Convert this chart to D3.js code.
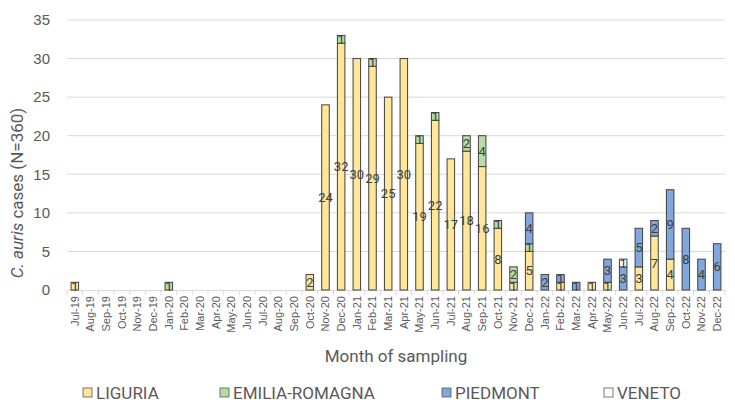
<!DOCTYPE html>
<html><head><meta charset="utf-8">
<script src="https://cdn.jsdelivr.net/npm/d3@7/dist/d3.min.js"></script>
<style>body{margin:0;background:#fff}svg{display:block;font-family:"Liberation Sans Narrow","Roboto",sans-serif}</style>
</head><body><svg id="c" width="735" height="409"></svg>
<script>
const months = ["Jul-19","Aug-19","Sep-19","Oct-19","Nov-19","Dec-19","Jan-20","Feb-20","Mar-20","Apr-20","May-20","Jun-20","Jul-20","Aug-20","Sep-20","Oct-20","Nov-20","Dec-20","Jan-21","Feb-21","Mar-21","Apr-21","May-21","Jun-21","Jul-21","Aug-21","Sep-21","Oct-21","Nov-21","Dec-21","Jan-22","Feb-22","Mar-22","Apr-22","May-22","Jun-22","Jul-22","Aug-22","Sep-22","Oct-22","Nov-22","Dec-22"];
const liguria  = [1,0,0,0,0,0,0,0,0,0,0,0,0,0,0,2,24,32,30,29,25,30,19,22,17,18,16,8,1,5,0,1,0,1,1,0,3,7,4,0,0,0];
const emilia   = [0,0,0,0,0,0,1,0,0,0,0,0,0,0,0,0,0,1,0,1,0,0,1,1,0,2,4,1,2,1,0,0,0,0,0,0,0,0,0,0,0,0];
const piedmont = [0,0,0,0,0,0,0,0,0,0,0,0,0,0,0,0,0,0,0,0,0,0,0,0,0,0,0,0,0,4,2,1,1,0,3,3,5,2,9,8,4,6];
const veneto   = [0,0,0,0,0,0,0,0,0,0,0,0,0,0,0,0,0,0,0,0,0,0,0,0,0,0,0,0,0,0,0,0,0,0,0,1,0,0,0,0,0,0];
const seriesNames = ["LIGURIA","EMILIA-ROMAGNA","PIEDMONT","VENETO"];
const yTicks = [0,5,10,15,20,25,30,35];

const colors = ["#FFE699","#B7DDA6","#80A8DE","#FFFFFF"];
const svg = d3.select("#c");
const L = 67, R = 725, T = 20, B = 290;
const x = d3.scaleBand().domain(months).range([L, R]).paddingInner(0.52).paddingOuter(0.26);
const y = d3.scaleLinear().domain([0, 35]).range([B, T]);

// gridlines
svg.append("g").selectAll("line").data(yTicks.slice(1)).join("line")
  .attr("x1", L).attr("x2", R).attr("y1", d => y(d)).attr("y2", d => y(d))
  .attr("stroke", "#d9d9d9").attr("stroke-width", 1);

// y axis labels
const ya = svg.append("g").attr("transform", `translate(${L},0)`)
  .call(d3.axisLeft(y).tickValues(yTicks).tickSize(0).tickPadding(17));
ya.select(".domain").remove();
ya.selectAll("text").attr("font-size", 15).attr("fill", "#595959");

// x axis
const xa = svg.append("g").attr("transform", `translate(0,${B})`)
  .call(d3.axisBottom(x).tickSize(0));
xa.select(".domain").attr("stroke", "#d9d9d9");
xa.selectAll("text").attr("font-size", 11).attr("fill", "#595959")
  .attr("text-anchor", "end").attr("transform", "rotate(-90)")
  .attr("x", -6).attr("y", 0).attr("dy", "0.35em");
// tick marks at band boundaries
const step = x.step();
const bounds = d3.range(months.length + 1).map(i => L + i * (R - L) / months.length);
svg.append("g").selectAll("line").data(bounds).join("line")
  .attr("x1", d => d).attr("x2", d => d).attr("y1", B).attr("y2", B + 5)
  .attr("stroke", "#d9d9d9");

// stacked data
const table = months.map((m, i) => ({month: m, LIGURIA: liguria[i], "EMILIA-ROMAGNA": emilia[i], PIEDMONT: piedmont[i], VENETO: veneto[i]}));
const stack = d3.stack().keys(seriesNames)(table);

stack.forEach((layer, si) => {
  const g = svg.append("g");
  g.selectAll("rect").data(layer.filter(d => d[1] - d[0] > 0)).join("rect")
    .attr("x", d => x(d.data.month)).attr("width", x.bandwidth())
    .attr("y", d => y(d[1])).attr("height", d => y(d[0]) - y(d[1]))
    .attr("fill", colors[si]).attr("stroke", "#404040").attr("stroke-width", 1);
});
stack.forEach((layer, si) => {
  svg.append("g").selectAll("text").data(layer.filter(d => d[1] - d[0] > 0)).join("text")
    .attr("x", d => x(d.data.month) + x.bandwidth() / 2)
    .attr("y", d => (y(d[0]) + y(d[1])) / 2).attr("dy", "0.35em")
    .attr("text-anchor", "middle").attr("font-size", 13).attr("fill", "#404040")
    .text(d => d[1] - d[0]);
});

// y title
const yt = svg.append("text").attr("transform", "translate(23,193) rotate(-90)")
  .attr("text-anchor", "middle").attr("font-size", 17).attr("fill", "#595959");
yt.append("tspan").attr("font-style", "italic").text("C. auris");
yt.append("tspan").text(" cases (N=360)");

// x title
svg.append("text").attr("x", 396).attr("y", 362).attr("text-anchor", "middle")
  .attr("font-size", 17).attr("fill", "#595959").text("Month of sampling");

// legend
const legX = [83, 220, 442, 604];
const lg = svg.append("g");
seriesNames.forEach((n, i) => {
  lg.append("rect").attr("x", legX[i]).attr("y", 388).attr("width", 9).attr("height", 9)
    .attr("fill", colors[i]).attr("stroke", "#595959").attr("stroke-width", 0.8);
  lg.append("text").attr("x", legX[i] + 13).attr("y", 393).attr("dy", "0.35em")
    .attr("font-size", 17).attr("fill", "#595959").text(n);
});
</script></body></html>
